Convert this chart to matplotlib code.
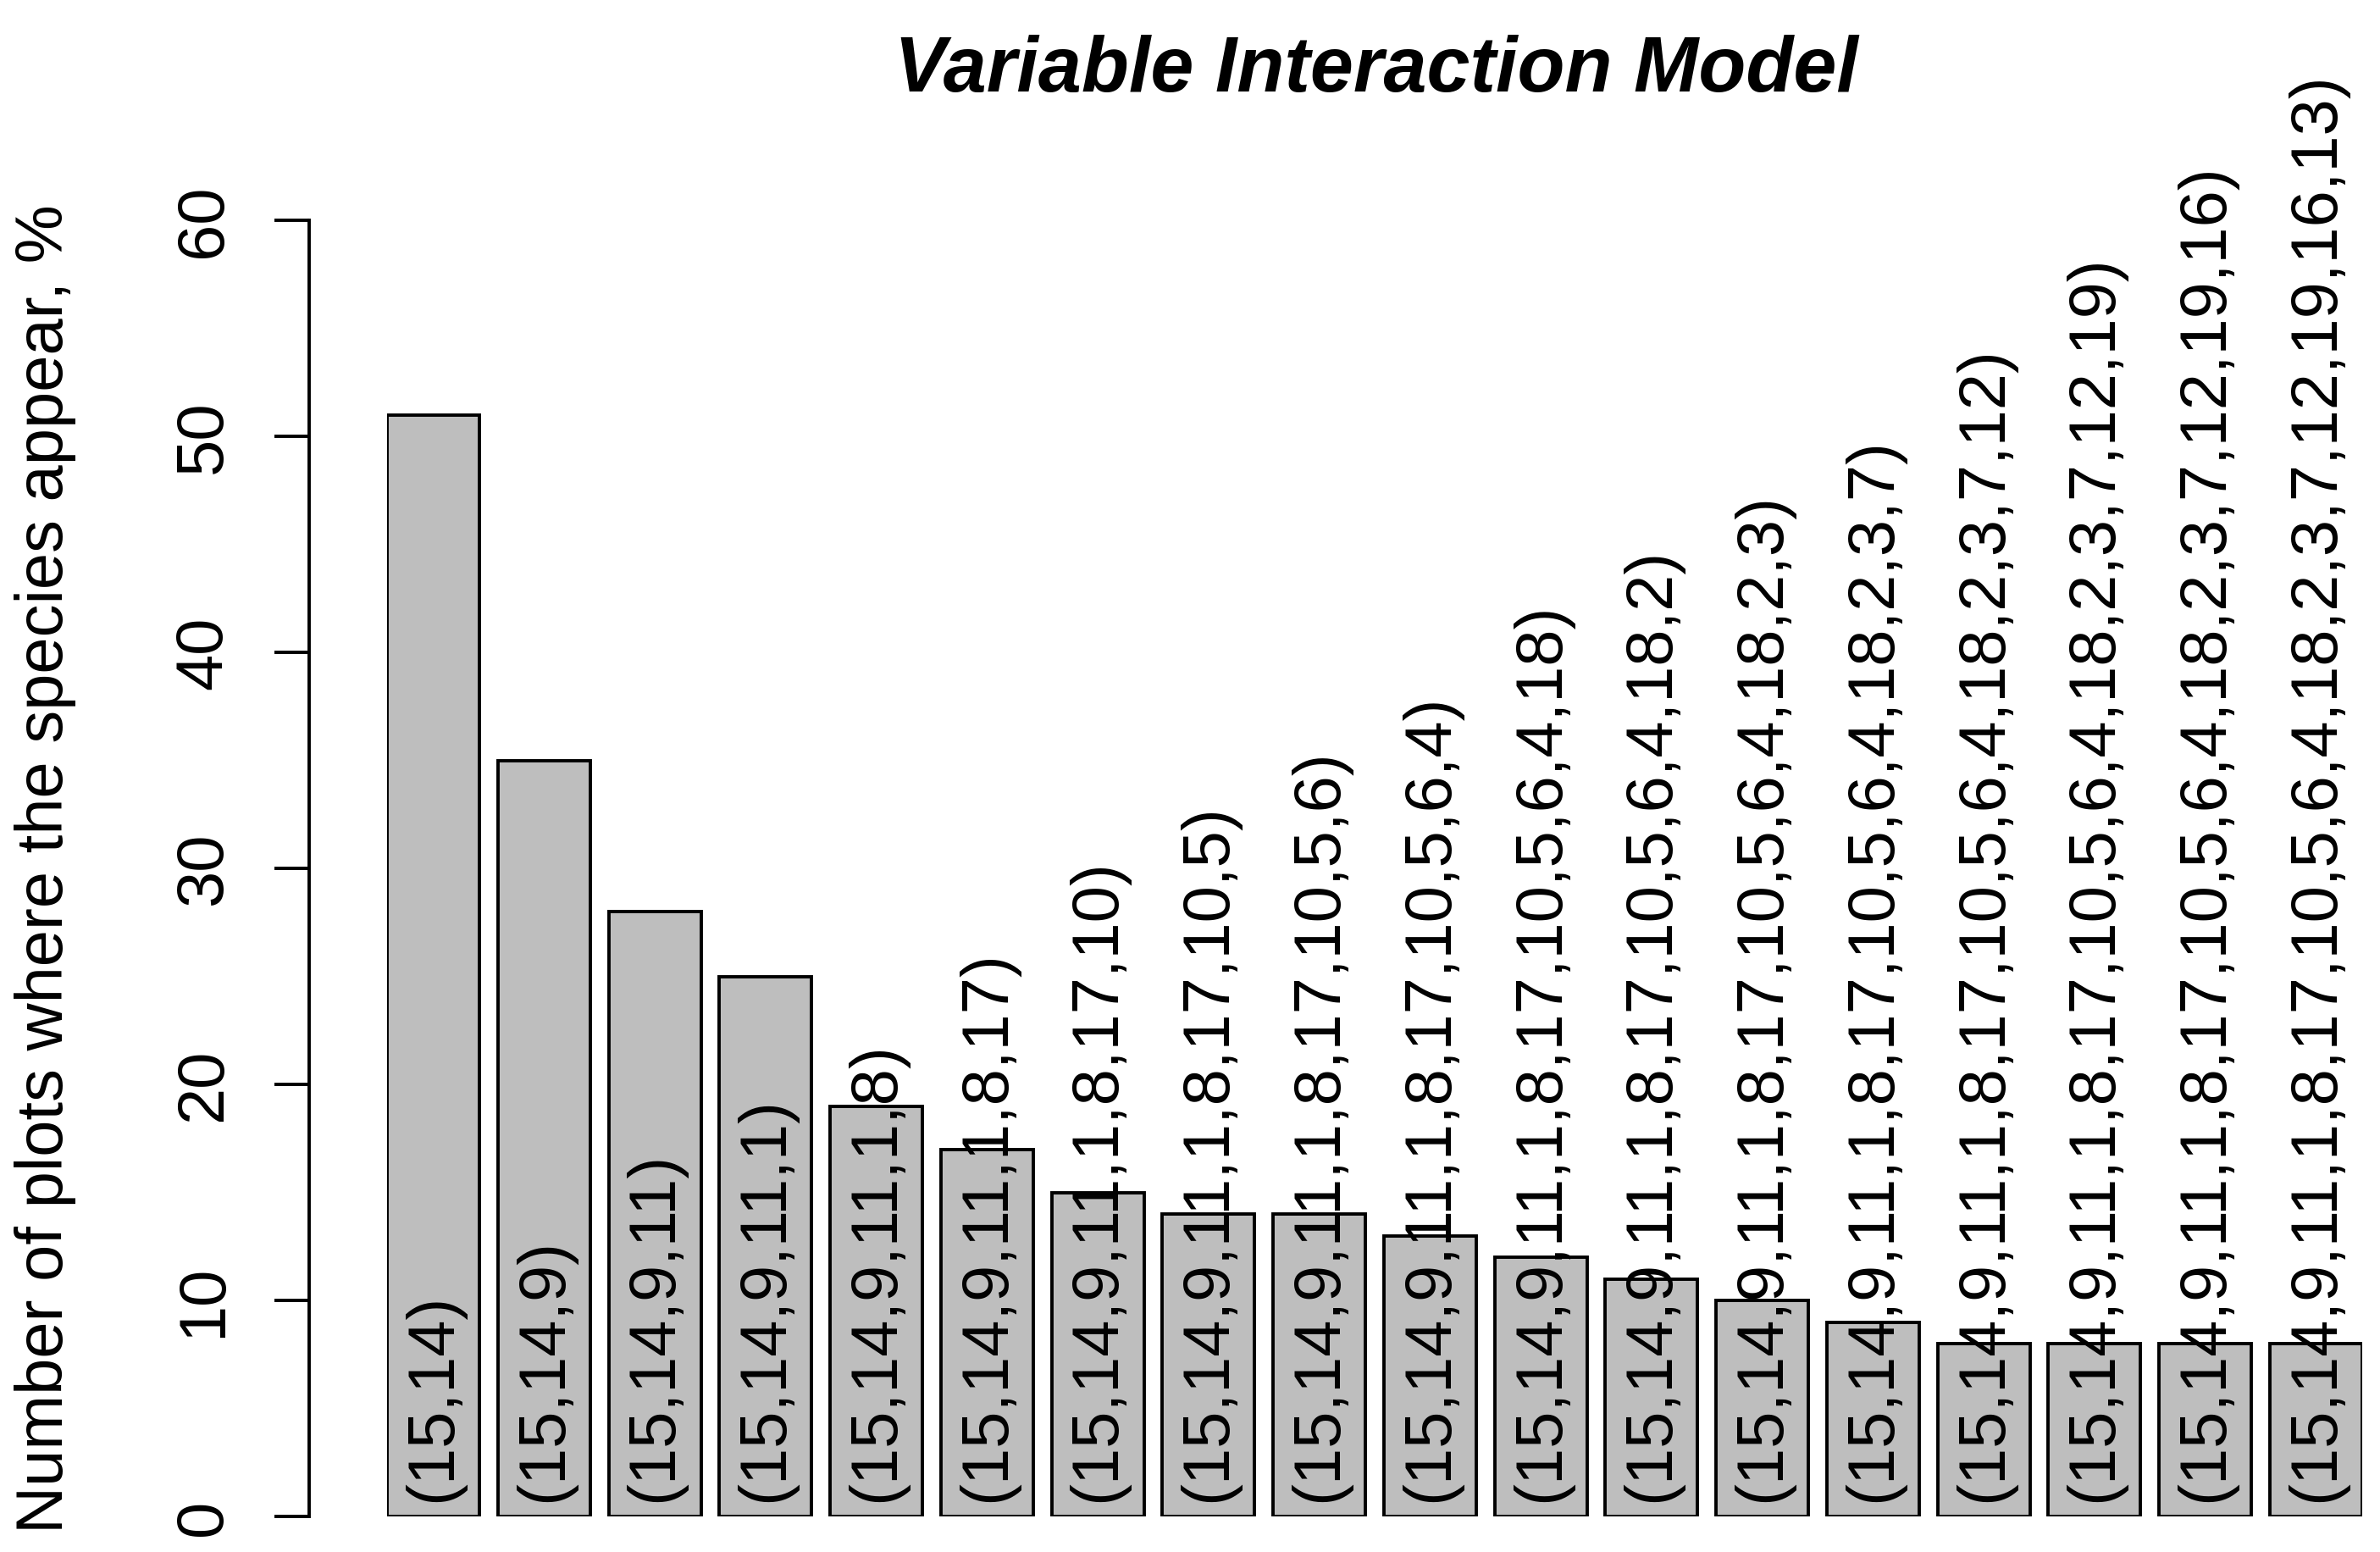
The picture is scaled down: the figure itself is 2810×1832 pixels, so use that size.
import matplotlib
matplotlib.use("Agg")
import matplotlib.pyplot as plt
import numpy as np

plt.rcParams['font.family'] = ['Liberation Sans', 'DejaVu Sans']

title = "Variable Interaction Model"
ylabel = "Number of plots where the species appear, %"
variables = [15, 14, 9, 11, 1, 8, 17, 10, 5, 6, 4, 18, 2, 3, 7, 12, 19, 16, 13]
values = [51, 35, 28, 25, 19, 17, 15, 14, 14, 13, 12, 11, 10, 9, 8, 8, 8, 8]
labels = ["(" + ",".join(str(v) for v in variables[:k + 2]) + ")" for k in range(len(values))]
yticks = [0, 10, 20, 30, 40, 50, 60]

W, H, DPI = 2810, 1833, 100
fig = plt.figure(figsize=(W / DPI, H / DPI), dpi=DPI)
ax = fig.add_axes([457 / W, 1 - 1791 / H, (2789 - 457) / W, (1791 - 261) / H])

n = len(values)
width = 1.0
space = 0.2
x = np.array([space + i * (width + space) + width / 2 for i in range(n)])
ax.bar(x, values, width=width, color='#BEBEBE', edgecolor='black', linewidth=2.8)
for xi, lab in zip(x, labels):
    ax.text(xi, 0.7, lab, rotation=90, ha='center', va='bottom', fontsize=56,
            color='black', clip_on=False)

ax.set_xlim(space, n * (width + space))
ax.set_ylim(0, 60)
for s in ['top', 'right', 'bottom']:
    ax.spines[s].set_visible(False)
ax.spines['left'].set_position(('outward', 92 * 72 / DPI))
ax.spines['left'].set_bounds(0, 60)
ax.spines['left'].set_linewidth(2.8)
ax.set_xticks([])
ax.set_yticks(yticks)
ax.set_yticklabels([str(t) for t in yticks], rotation=90, va='center', fontsize=56)
ax.tick_params(axis='y', length=41 * 72 / DPI, width=2.8, pad=34)

fig.text(1625 / W, 1 - 108 / H, title, ha='center', va='baseline', fontsize=66,
         fontweight='bold', fontstyle='italic')
fig.text(54 / W, 1 - 1026 / H, ylabel, rotation=90, ha='center', va='center', fontsize=56)

fig.savefig("out.png", dpi=DPI)
